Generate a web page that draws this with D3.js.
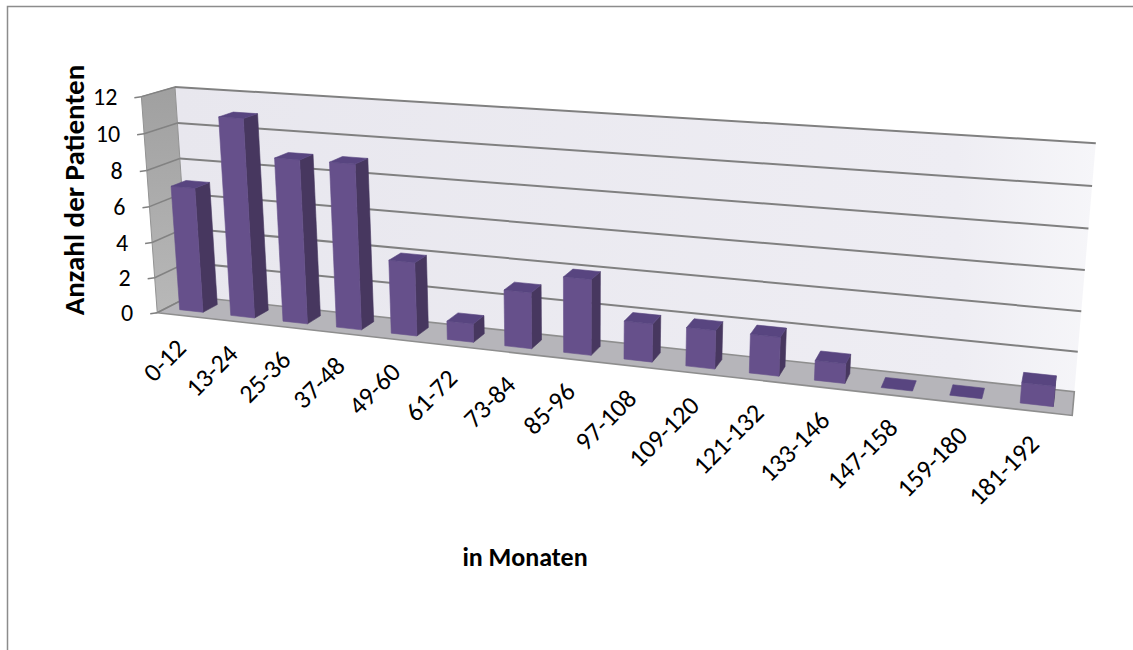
<!DOCTYPE html>
<html>
<head>
<meta charset="utf-8">
<script src="https://cdn.jsdelivr.net/npm/d3@7"></script>
<style>
  html, body { margin: 0; background: #fff; }
  svg { display: block; }
  text { font-family: Carlito, Calibri, Lato, "Open Sans", sans-serif; fill: #000; }
</style>
</head>
<body>
<svg id="chart" width="1133" height="650"></svg>
<script>
// ---- data ----
const categories = ["0-12", "13-24", "25-36", "37-48", "49-60", "61-72", "73-84", "85-96",
                    "97-108", "109-120", "121-132", "133-146", "147-158", "159-180", "181-192"];
const patients = [7, 11, 9, 9, 4, 1, 3, 4, 2, 2, 2, 1, 0, 0, 1];
const yTicks = [0, 2, 4, 6, 8, 10, 12];
const yTitle = "Anzahl der Patienten";
const xTitle = "in Monaten";

// ---- 3-D scene: box measured in category steps ----
const box = { w: categories.length, h: 3.74, d: 1 };
const cam = { yaw: 18.5, pitch: 15, dist: 24.5, focal: 1567, cx: 582, cy: 236 };

const x = d3.scaleBand().domain(categories).range([0, box.w]).paddingInner(0.54).paddingOuter(0.27);
const y = d3.scaleLinear().domain([0, 12]).range([0, box.h]);
const bw = x.bandwidth();
const zFront = (box.d - bw) / 2, zBack = zFront + bw;

const rad = Math.PI / 180;
const ct = Math.cos(cam.yaw * rad), st = Math.sin(cam.yaw * rad);
const cp = Math.cos(cam.pitch * rad), sp = Math.sin(cam.pitch * rad);

// world (X along categories, Y up, Z into the picture) -> screen
function project(X, Y, Z) {
  const px = X - box.w / 2, py = Y - box.h / 2, pz = Z - box.d / 2;
  const x1 = px * ct + pz * st;
  const z1 = -px * st + pz * ct;
  const y2 = py * cp + z1 * sp;
  const z2 = -py * sp + z1 * cp;
  const k = cam.focal / (cam.dist + z2);
  return [cam.cx + x1 * k, cam.cy - y2 * k];
}
// eye position in world coordinates (for choosing visible faces)
const eye = {
  x: cam.dist * cp * st + box.w / 2,
  y: cam.dist * sp + box.h / 2,
  z: -cam.dist * cp * ct + box.d / 2
};

const path = pts => "M" + pts.map(p => p[0].toFixed(2) + "," + p[1].toFixed(2)).join("L") + "Z";
const line = (a, b) => "M" + a[0].toFixed(2) + "," + a[1].toFixed(2) + "L" + b[0].toFixed(2) + "," + b[1].toFixed(2);

const svg = d3.select("#chart");
const defs = svg.append("defs");

const backGrad = defs.append("linearGradient").attr("id", "backWall")
  .attr("x1", "0").attr("y1", "0").attr("x2", "1").attr("y2", "0");
backGrad.append("stop").attr("offset", "0").attr("stop-color", "#e8e7ee");
backGrad.append("stop").attr("offset", "0.85").attr("stop-color", "#eeedf3");
backGrad.append("stop").attr("offset", "1").attr("stop-color", "#f6f6f9");

const sideGrad = defs.append("linearGradient").attr("id", "sideWall")
  .attr("x1", "0").attr("y1", "0").attr("x2", "0").attr("y2", "1");
sideGrad.append("stop").attr("offset", "0").attr("stop-color", "#a0a0a0");
sideGrad.append("stop").attr("offset", "1").attr("stop-color", "#b8b8b8");

// outer chart frame
svg.append("rect").attr("x", 7.5).attr("y", 6.5).attr("width", 1200).attr("height", 700)
  .attr("fill", "#fff").attr("stroke", "#8c8c8c").attr("stroke-width", 1.5);

// ---- walls and floor ----
const H = y(12);
svg.append("path")
  .attr("d", path([project(0, 0, box.d), project(box.w, 0, box.d), project(box.w, H, box.d), project(0, H, box.d)]))
  .attr("fill", "url(#backWall)");
svg.append("path")
  .attr("d", path([project(0, 0, 0), project(0, 0, box.d), project(0, H, box.d), project(0, H, 0)]))
  .attr("fill", "url(#sideWall)").attr("stroke", "#939393").attr("stroke-width", 1);
svg.append("path")
  .attr("d", path([project(0, 0, 0), project(box.w, 0, 0), project(box.w, 0, box.d), project(0, 0, box.d)]))
  .attr("fill", "#b6b5ba").attr("stroke", "#8e8e8e").attr("stroke-width", 1.6);

// gridlines on back and side walls
const grid = svg.append("g").attr("fill", "none").attr("stroke", "#808080").attr("stroke-width", 2);
grid.selectAll("path.back").data(yTicks.filter(v => v > 0)).join("path").attr("class", "back")
  .attr("d", v => line(project(0, y(v), box.d), project(box.w, y(v), box.d)));
grid.selectAll("path.side").data(yTicks).join("path").attr("class", "side")
  .attr("stroke", "#828282").attr("stroke-width", 1.5)
  .attr("d", v => line(project(0, y(v), 0), project(0, y(v), box.d)));
// tick marks in front of the side wall
grid.selectAll("path.tick").data(yTicks).join("path").attr("class", "tick")
  .attr("stroke-width", 1.5)
  .attr("d", v => { const p = project(0, y(v), 0); return line([p[0] - 7, p[1] + 1], p); });

// ---- columns ----
const colors = { front: "#66508b", side: "#47375f", top: "#584580" };
const bars = svg.append("g").selectAll("g.bar")
  .data(categories.map((c, i) => ({ c, v: patients[i] })))
  .join("g").attr("class", "bar");

bars.each(function (d) {
  const g = d3.select(this);
  const x0 = x(d.c), x1 = x0 + bw, t = y(d.v);
  const faces = [];
  if (d.v > 0) {
    if (eye.x > x1) faces.push({ f: "side", p: [[x1, 0, zFront], [x1, 0, zBack], [x1, t, zBack], [x1, t, zFront]] });
    if (eye.x < x0) faces.push({ f: "side", p: [[x0, 0, zFront], [x0, 0, zBack], [x0, t, zBack], [x0, t, zFront]] });
    faces.push({ f: "front", p: [[x0, 0, zFront], [x1, 0, zFront], [x1, t, zFront], [x0, t, zFront]] });
  }
  if (eye.y > t) faces.push({ f: "top", p: [[x0, t, zFront], [x1, t, zFront], [x1, t, zBack], [x0, t, zBack]] });
  g.selectAll("path").data(faces).join("path")
    .attr("d", f => path(f.p.map(q => project(...q))))
    .attr("fill", f => colors[f.f])
    .attr("stroke", f => colors[f.f]).attr("stroke-width", 0.6).attr("stroke-linejoin", "round");
});

// ---- axis labels ----
svg.append("g").selectAll("text").data(yTicks).join("text")
  .attr("x", v => project(0, y(v), 0)[0] - 24)
  .attr("y", v => project(0, y(v), 0)[1])
  .attr("text-anchor", "end").attr("dominant-baseline", "central")
  .attr("font-size", 24)
  .text(v => v);

svg.append("g").selectAll("text").data(categories).join("text")
  .attr("transform", c => {
    const p = project(x(c) + bw / 2, 0, 0);
    return `translate(${p[0] + 5},${p[1] + 34}) rotate(-45)`;
  })
  .attr("text-anchor", "end")
  .attr("font-size", 26)
  .text(c => c);

svg.append("text")
  .attr("transform", "translate(84,190) rotate(-90)")
  .attr("text-anchor", "middle").attr("font-weight", "bold").attr("font-size", 29)
  .text(yTitle);

svg.append("text")
  .attr("x", 525).attr("y", 566)
  .attr("text-anchor", "middle").attr("font-weight", "bold").attr("font-size", 26)
  .text(xTitle);
</script>
</body>
</html>
